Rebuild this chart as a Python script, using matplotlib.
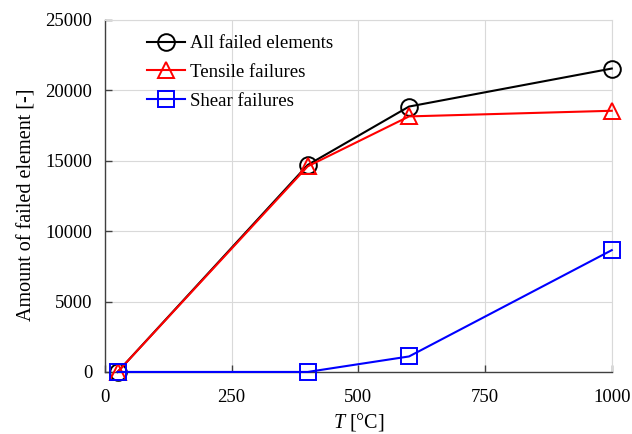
import matplotlib
matplotlib.use("Agg")
import matplotlib.pyplot as plt

temps = [25, 400, 600, 1000]
all_failed = [0, 14700, 18850, 21550]
tensile = [0, 14600, 18150, 18550]
shear = [0, 0, 1100, 8650]
series_labels = ["All failed elements", "Tensile failures", "Shear failures"]
xticks = [0, 250, 500, 750, 1000]
yticks = [0, 5000, 10000, 15000, 20000, 25000]

plt.rcParams['font.family'] = ['Liberation Serif', 'DejaVu Serif']
plt.rcParams['mathtext.fontset'] = 'custom'
plt.rcParams['mathtext.it'] = 'Liberation Serif:italic'
plt.rcParams['mathtext.rm'] = 'Liberation Serif'

fig = plt.figure(figsize=(6.32, 4.34), dpi=100)
ax = fig.add_axes([0.166, 0.143, 0.802, 0.811])

ms = 12
lw = 1.5
ax.plot(temps, all_failed, color='black', marker='o', mfc='none', ms=ms, mew=1.4, lw=lw, label=series_labels[0], clip_on=False, zorder=3)
ax.plot(temps, tensile, color='#ff0000', marker='^', mfc='none', ms=ms, mew=1.4, lw=lw, label=series_labels[1], clip_on=False, zorder=4)
ax.plot(temps, shear, color='#0000ff', marker='s', mfc='none', ms=ms, mew=1.4, lw=lw, label=series_labels[2], clip_on=False, zorder=5)

ax.set_xlim(0, 1000)
ax.set_ylim(0, 25000)
ax.set_xticks(xticks)
ax.set_yticks(yticks)
ax.grid(True, color='#d9d9d9', lw=0.8)
ax.set_axisbelow(True)
for s in ['top', 'right']:
    ax.spines[s].set_color('#d9d9d9')
    ax.spines[s].set_linewidth(0.8)
for s in ['left', 'bottom']:
    ax.spines[s].set_color('#404040')
    ax.spines[s].set_linewidth(1.0)
ax.tick_params(direction='in', length=5, width=1.0, color='#404040', labelsize=13.5)
ax.tick_params(axis='y', pad=9)
ax.tick_params(axis='x', pad=12)

ax.set_xlabel(r'$T$ [°C]', fontsize=14.5, labelpad=4)
ax.set_ylabel('Amount of failed element [-]', fontsize=14.5, labelpad=9)
ax.yaxis.set_label_coords(-0.135, 0.475)

leg = ax.legend(loc='upper left', frameon=False, fontsize=13.5, handlelength=2.0,
                handletextpad=0.3, labelspacing=0.62, bbox_to_anchor=(0.05, 1.005))

fig.savefig('out.png', dpi=100)
